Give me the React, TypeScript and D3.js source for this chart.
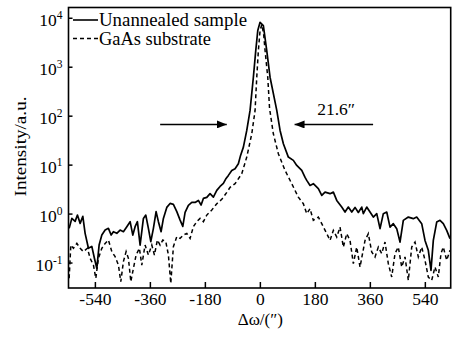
import React, { useRef, useEffect } from 'react';
import * as d3 from 'd3';

// rocking curve (arcsec, a.u.)
const solidX = [-625.9,-617.1,-606.3,-598.8,-589.9,-581.1,-573.6,-562.8,-551.7,-543.2,-535.3,-527.8,-518.9,-508.1,-497.3,-488.5,-481.0,-469.9,-459.1,-448.3,-437.1,-426.3,-417.5,-410.0,-402.5,-393.6,-382.8,-375.0,-366.5,-358.6,-350.1,-341.3,-333.7,-324.9,-317.4,-306.3,-295.5,-284.7,-273.5,-262.7,-253.9,-246.4,-235.6,-224.5,-213.7,-202.9,-194.0,-186.5,-175.4,-164.6,-153.8,-142.7,-131.9,-121.1,-112.2,-104.7,-93.6,-82.8,-72.0,-64.8,-55.6,-44.5,-33.7,-22.9,-15.1,-8.5,-1.0,9.8,20.9,31.7,53.7,64.5,75.3,91.6,108.0,119.1,135.5,146.3,151.8,162.6,173.4,189.8,200.9,211.7,228.1,238.9,250.0,266.3,277.1,287.9,299.1,309.9,320.7,331.8,337.0,348.1,358.9,369.7,380.9,391.7,402.5,413.6,424.4,435.2,446.3,457.1,467.9,484.3,500.6,511.7,528.1,538.9,549.7,558.5,566.1,577.2,588.0,598.8,609.9,620.7];
const solidY = [0.511,0.817,0.710,0.954,0.646,0.898,0.404,0.200,0.219,0.125,0.078,0.233,0.373,0.471,0.511,0.373,0.437,0.404,0.471,0.437,0.553,0.700,0.373,0.553,0.700,0.233,0.817,0.954,0.511,0.273,0.511,1.12,0.700,0.437,0.817,1.37,1.65,1.58,1.12,0.754,0.561,1.08,1.51,1.73,1.73,1.90,1.53,2.09,2.19,2.61,2.22,3.05,3.67,4.23,5.35,6.17,7.80,8.45,10.7,15.8,23.3,51.1,131,625,2190,5610,8280,7100,2190,625,131,51.1,27.3,14.6,12.5,9.86,7.80,5.61,4.88,3.85,4.17,3.30,2.41,2.81,2.61,2.81,1.90,1.39,1.10,1.39,1.10,1.37,1.08,1.39,1.02,1.39,1.10,0.869,1.02,0.504,1.02,1.10,0.543,0.637,0.504,0.268,0.744,0.869,0.806,0.869,0.637,0.290,0.182,0.071,0.290,0.687,0.744,0.637,0.465,0.315];

const substrateX = [-625.9,-620.4,-611.9,-600.7,-589.9,-579.1,-566.1,-557.2,-546.4,-538.6,-530.1,-518.9,-508.1,-497.3,-486.2,-475.4,-464.6,-456.8,-448.3,-439.4,-431.9,-424.0,-415.5,-406.7,-395.9,-388.1,-377.3,-366.5,-355.3,-346.8,-337.0,-328.2,-319.3,-309.5,-301.0,-293.2,-284.7,-273.5,-262.7,-251.9,-240.8,-230.0,-219.2,-208.1,-197.3,-186.5,-175.4,-159.0,-142.7,-126.3,-109.9,-99.1,-82.8,-60.9,-44.5,-28.1,-17.3,-11.8,-6.5,-1.0,4.6,10.5,15.4,24.2,30.1,42.5,58.9,80.8,102.7,124.3,140.7,151.8,162.6,173.4,189.8,200.9,217.3,228.1,238.9,250.0,260.8,271.6,282.7,293.5,304.3,315.4,326.2,342.6,353.4,364.5,375.3,386.1,397.2,408.0,418.8,429.9,440.7,451.5,462.7,473.5,484.3,495.4,506.2,517.0,528.1,538.9,549.7,560.8,571.6,582.4,591.2,598.8,609.9,620.7];
const substrateY = [0.0487,0.233,0.200,0.252,0.200,0.171,0.200,0.125,0.091,0.0487,0.125,0.200,0.252,0.295,0.171,0.135,0.091,0.0417,0.107,0.171,0.125,0.0417,0.078,0.146,0.200,0.091,0.233,0.146,0.233,0.146,0.295,0.233,0.295,0.273,0.146,0.0385,0.216,0.346,0.319,0.373,0.404,0.319,0.553,0.700,0.817,0.700,0.954,1.21,1.63,2.00,2.77,3.51,4.17,6.67,14.6,43.7,131,625,2190,5610,7430,4880,2190,625,144,43.7,17.1,7.80,4.17,2.22,1.63,1.02,1.29,0.744,0.869,0.637,0.398,0.290,0.465,0.340,0.543,0.212,0.398,0.290,0.097,0.212,0.083,0.290,0.398,0.168,0.133,0.212,0.156,0.268,0.097,0.0518,0.156,0.212,0.083,0.133,0.0443,0.212,0.268,0.133,0.212,0.114,0.0518,0.0443,0.083,0.0518,0.156,0.212,0.114,0.182];

const xTicks = [-540, -360, -180, 0, 180, 360, 540];
const yExps = [-1, 0, 1, 2, 3, 4];
const seriesNames = ['Unannealed sample', 'GaAs substrate'];
const fwhmLabel = '21.6\u2033';
// arrow annotation: y level and x extents (arcsec)
const arrowLevel = 67.7;
const arrowLeft = [-328, -110];
const arrowRight = [369, 112];

const W = 457, H = 337;
const FONT = 'Liberation Serif, DejaVu Serif, serif';

const App = () => {
  const svgRef = useRef<SVGSVGElement>(null);

  useEffect(() => {
    const svg = d3.select(svgRef.current);
    svg.selectAll('*').remove();

    const left = 68.5, right = 450.7, top = 7.5, bottom = 288;
    const x = d3.scaleLinear().domain([-628, 623]).range([left, right]);
    const y = d3.scaleLog().domain([Math.pow(10, -1.51), Math.pow(10, 4.22)]).range([bottom, top]);

    const zip = (xs: number[], ys: number[]) =>
      xs.slice(0, Math.min(xs.length, ys.length)).map((v, i) => [v, ys[i]] as [number, number]);

    const defs = svg.append('defs');
    defs.append('clipPath').attr('id', 'plot-clip')
      .append('rect').attr('x', left).attr('y', top).attr('width', right - left).attr('height', bottom - top);

    const line = d3.line<[number, number]>().x(d => x(d[0])).y(d => y(d[1]));

    const g = svg.append('g').attr('clip-path', 'url(#plot-clip)');
    g.append('path')
      .attr('d', line(zip(substrateX, substrateY)))
      .attr('fill', 'none').attr('stroke', '#000').attr('stroke-width', 1.5)
      .attr('stroke-dasharray', '4,3');
    g.append('path')
      .attr('d', line(zip(solidX, solidY)))
      .attr('fill', 'none').attr('stroke', '#000').attr('stroke-width', 1.7)
      .attr('stroke-linejoin', 'round');

    // frame
    svg.append('rect')
      .attr('x', left).attr('y', top).attr('width', right - left).attr('height', bottom - top)
      .attr('fill', 'none').attr('stroke', '#000').attr('stroke-width', 1.6);

    const txt = (sel: any, size: number) =>
      sel.style('font-family', FONT).style('font-size', `${size}px`).attr('fill', '#000');

    // x ticks
    const xt = svg.append('g');
    xTicks.forEach(t => {
      xt.append('line').attr('x1', x(t)).attr('x2', x(t)).attr('y1', bottom).attr('y2', bottom - 6)
        .attr('stroke', '#000').attr('stroke-width', 1.5);
      txt(xt.append('text').attr('x', x(t)).attr('y', 305).attr('text-anchor', 'middle'), 17.5).text(t);
    });

    // y ticks
    const yt = svg.append('g');
    yExps.forEach(e => {
      const yy = y(Math.pow(10, e));
      yt.append('line').attr('x1', left).attr('x2', left + 4).attr('y1', yy).attr('y2', yy)
        .attr('stroke', '#000').attr('stroke-width', 1.5);
      const t = txt(yt.append('text').attr('x', 62.5).attr('y', yy + 7.5).attr('text-anchor', 'end'), 17.5);
      t.append('tspan').text('10');
      t.append('tspan').attr('dy', -7).style('font-size', '11.5px').text(e);
    });

    // axis titles
    txt(svg.append('text')
      .attr('transform', `translate(26, 146.5) rotate(-90)`)
      .attr('text-anchor', 'middle')
      .attr('textLength', 100).attr('lengthAdjust', 'spacingAndGlyphs'), 17.5)
      .text('Intensity/a.u.');
    txt(svg.append('text')
      .attr('x', x(0)).attr('y', 325).attr('text-anchor', 'middle'), 17)
      .text('\u0394\u03c9/(\u2033)');

    // legend
    const lg = svg.append('g');
    const legendWidths = [148, 112];
    seriesNames.forEach((name, i) => {
      const ly = 20 + i * 18.5;
      lg.append('line').attr('x1', 73).attr('x2', 98).attr('y1', ly).attr('y2', ly)
        .attr('stroke', '#000').attr('stroke-width', i === 0 ? 1.6 : 1.4)
        .attr('stroke-dasharray', i === 0 ? null : '4,3');
      txt(lg.append('text').attr('x', 99).attr('y', ly + 6)
        .attr('textLength', legendWidths[i]).attr('lengthAdjust', 'spacingAndGlyphs'), 18.5)
        .text(name);
    });

    // FWHM arrows
    defs.append('marker').attr('id', 'arrowhead')
      .attr('viewBox', '0 0 10 8').attr('refX', 10).attr('refY', 4)
      .attr('markerWidth', 10).attr('markerHeight', 8).attr('markerUnits', 'userSpaceOnUse')
      .attr('orient', 'auto')
      .append('path').attr('d', 'M0,0 L10,4 L0,8 Z').attr('fill', '#000');
    [arrowLeft, arrowRight].forEach(a => {
      svg.append('line')
        .attr('x1', x(a[0])).attr('x2', x(a[1]))
        .attr('y1', y(arrowLevel)).attr('y2', y(arrowLevel))
        .attr('stroke', '#000').attr('stroke-width', 1.6)
        .attr('marker-end', 'url(#arrowhead)');
    });
    txt(svg.append('text')
      .attr('x', x(186)).attr('y', y(arrowLevel) - 9), 17.5)
      .text(fwhmLabel);
  }, []);

  return (
    <svg
      ref={svgRef}
      width={W}
      height={H}
      style={{ position: 'absolute', left: 0, top: 0, background: '#fff' }}
    />
  );
};

export default App;
